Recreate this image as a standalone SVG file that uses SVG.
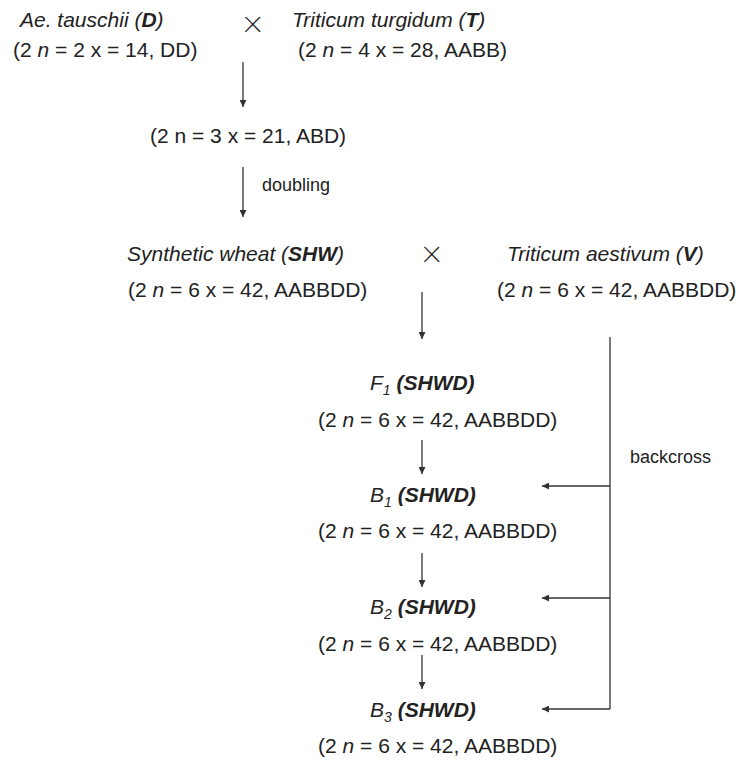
<svg xmlns="http://www.w3.org/2000/svg" width="736" height="763" viewBox="0 0 736 763">
<style>
text{font-family:"Liberation Sans",Arial,sans-serif;font-size:21px;fill:#222}
.i{font-style:italic}
.b{font-weight:bold}
.s{font-size:14px}
.lbl{font-size:18px}
.x{font-size:40px;stroke:#fff;stroke-width:1.4}
.c line{stroke:#333;stroke-width:1.3;fill:none}
.c .a{marker-end:url(#ah)}
</style>
<defs>
<marker id="ah" viewBox="0 0 10 10" refX="10" refY="5" markerWidth="8" markerHeight="7" markerUnits="userSpaceOnUse" orient="auto">
<path d="M0,0L10,5L0,10z" fill="#333"/>
</marker>
</defs>
<rect width="736" height="763" fill="#fff"/>
<g id="connectors" class="c">
<line class="a" x1="243" y1="62" x2="243" y2="107"/>
<line class="a" x1="243" y1="167" x2="243" y2="217"/>
<line class="a" x1="422" y1="292" x2="422" y2="339"/>
<line x1="610" y1="337" x2="610" y2="709"/>
<line class="a" x1="610" y1="486" x2="542" y2="486"/>
<line class="a" x1="610" y1="598" x2="542" y2="598"/>
<line class="a" x1="610" y1="709" x2="542" y2="709"/>
<line class="a" x1="422" y1="440" x2="422" y2="474"/>
<line class="a" x1="422" y1="553" x2="422" y2="587"/>
<line class="a" x1="422" y1="655" x2="422" y2="689"/>
</g>
<g id="labels">
<text x="262" y="191" class="lbl">doubling</text>
<text x="630" y="463" class="lbl">backcross</text>
</g>
<g id="cross1"><text class="x" x="241" y="38">×</text></g>
<g id="cross2"><text class="x" x="420" y="268">×</text></g>
<g id="node-D">
<text x="20" y="27" class="i">Ae. tauschii (<tspan class="b">D</tspan>)</text>
<text x="13" y="57">(2 <tspan class="i">n</tspan> = 2 x = 14, DD)</text>
</g>
<g id="node-T">
<text x="292" y="27" class="i">Triticum turgidum (<tspan class="b">T</tspan>)</text>
<text x="298" y="57">(2 <tspan class="i">n</tspan> = 4 x = 28, AABB)</text>
</g>
<g id="node-ABD">
<text x="150" y="143">(2 n = 3 x = 21, ABD)</text>
</g>
<g id="node-SHW">
<text x="127" y="261" class="i">Synthetic wheat (<tspan class="b">SHW</tspan>)</text>
<text x="128" y="297">(2 <tspan class="i">n</tspan> = 6 x = 42, AABBDD)</text>
</g>
<g id="node-V">
<text x="507" y="261" class="i">Triticum aestivum (<tspan class="b">V</tspan>)</text>
<text x="497" y="297">(2 <tspan class="i">n</tspan> = 6 x = 42, AABBDD)</text>
</g>
<g id="node-F1">
<text x="370" y="390" class="i">F<tspan class="s" dy="5">1</tspan><tspan dy="-5"> </tspan><tspan class="b">(SHWD)</tspan></text>
<text x="318" y="427">(2 <tspan class="i">n</tspan> = 6 x = 42, AABBDD)</text>
</g>
<g id="node-B1">
<text x="370" y="502" class="i">B<tspan class="s" dy="5">1</tspan><tspan dy="-5"> </tspan><tspan class="b">(SHWD)</tspan></text>
<text x="318" y="538">(2 <tspan class="i">n</tspan> = 6 x = 42, AABBDD)</text>
</g>
<g id="node-B2">
<text x="370" y="614" class="i">B<tspan class="s" dy="5">2</tspan><tspan dy="-5"> </tspan><tspan class="b">(SHWD)</tspan></text>
<text x="318" y="651">(2 <tspan class="i">n</tspan> = 6 x = 42, AABBDD)</text>
</g>
<g id="node-B3">
<text x="370" y="717" class="i">B<tspan class="s" dy="5">3</tspan><tspan dy="-5"> </tspan><tspan class="b">(SHWD)</tspan></text>
<text x="318" y="753">(2 <tspan class="i">n</tspan> = 6 x = 42, AABBDD)</text>
</g>
</svg>
